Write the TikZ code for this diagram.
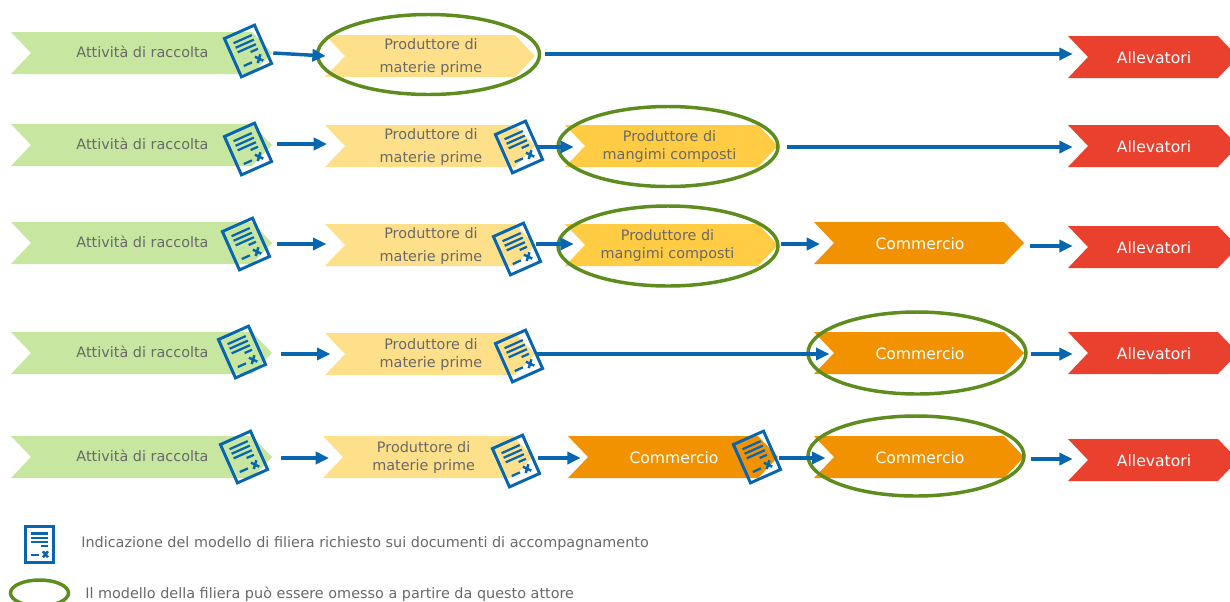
\documentclass[tikz,border=0pt]{standalone}
\usepackage{fontspec}
\setmainfont{DejaVu Sans}
\usetikzlibrary{arrows.meta}

\definecolor{raccolta}{RGB}{199,231,160}
\definecolor{materie}{RGB}{255,224,138}
\definecolor{mangimi}{RGB}{255,204,68}
\definecolor{commercio}{RGB}{243,146,0}
\definecolor{allevatori}{RGB}{233,65,46}
\definecolor{flowblue}{RGB}{8,102,176}
\definecolor{ringgreen}{RGB}{94,140,31}
\definecolor{labelgrey}{RGB}{105,105,105}

\tikzset{
  flow/.style={draw=flowblue,line width=2.6pt,-{Stealth[length=10pt,width=9pt,inset=0pt]}},
  ring/.style={draw=ringgreen,line width=2.6pt},
  dark label/.style={font=\fontsize{10.8}{12.5}\selectfont,text=labelgrey,align=center,inner sep=0pt},
  green label/.style={dark label,yshift=1.5pt},
  light label/.style={font=\fontsize{11.7}{13}\selectfont,text=white,align=center,inner sep=0pt},
  docicon/.pic={
    \draw[flowblue,line width=2.2pt] (-16.5,-21) rectangle (16.5,21);
    \draw[flowblue,line width=1.7pt] (-10,13) -- (10,13) (-10,8) -- (10,8) (-10,3) -- (10,3) (2,-2) -- (10,-2);
    \draw[flowblue,line width=1.7pt] (-10,-12) -- (-1,-12);
    \draw[flowblue,line width=1.9pt] (4,-8) -- (10,-15) (10,-8) -- (4,-15);
  }
}

% name, left, right, centre y, fill, label style, text
\newcommand{\chevron}[7]{
  \fill[#5] (#2,#4-21) -- ({#3-20},#4-21) -- (#3,#4) -- ({#3-20},#4+21) -- (#2,#4+21) -- ({#2+20},#4) -- cycle;
  \node[#6,minimum width={(#3-#2)*0.75pt},minimum height=31.5pt] (#1) at ({(#2+#3)/2+1},#4+1) {#7};
}

\begin{document}
\begin{tikzpicture}[x=0.75pt,y=0.75pt,yscale=-1,xscale=1]
\useasboundingbox (0,0) rectangle (1230,601);

% Row 1
\chevron{ra}{11}{272}{53}{raccolta}{green label}{Attività di raccolta}
\chevron{ma}{325}{535}{56}{materie}{dark label}{Produttore di\\[4.5pt]materie prime}
\chevron{aa}{1068}{1238}{57}{allevatori}{light label}{Allevatori}
\pic[rotate=24] at (248,51) {docicon};
\draw[ring] (428.5,54.5) ellipse (111 and 40);
\draw[flow] ([yshift=0.75pt]ra.east) -- ([yshift=-0.75pt]ma.west);
\draw[flow] ([xshift=6.75pt,yshift=-3pt]ma.east |- aa.west) -- ([xshift=3pt,yshift=-3pt]aa.west);

% Row 2
\chevron{rb}{11}{272}{145}{raccolta}{green label}{Attività di raccolta}
\chevron{mb}{325}{535}{146}{materie}{dark label}{Produttore di\\[4.5pt]materie prime}
\chevron{gb}{565}{778}{146}{mangimi}{dark label}{\hspace*{-4.5pt}Produttore di\\[1pt]\hspace*{-4.5pt}mangimi composti}
\chevron{ab}{1068}{1238}{146}{allevatori}{light label}{Allevatori}
\pic[rotate=24] at (248,149) {docicon};
\pic[rotate=24] at (519,147) {docicon};
\draw[ring] (668,146.5) ellipse (110 and 40);
\draw[flow] ([xshift=3pt]rb.east) -- ([xshift=1pt]mb.west |- rb.east);
\draw[flow] (mb.east) -- ([xshift=6pt]gb.west);
\draw[flow] ([xshift=6pt]gb.east) -- ([xshift=3pt]ab.west);

% Row 3
\chevron{rc}{11}{272}{243}{raccolta}{green label}{Attività di raccolta}
\chevron{mc}{325}{535}{245}{materie}{dark label}{Produttore di\\[4.5pt]materie prime}
\chevron{gc}{565}{778}{245}{mangimi}{dark label}{\hspace*{-7.5pt}Produttore di\\[1pt]\hspace*{-7.5pt}mangimi composti}
\chevron{oc}{814}{1024}{243}{commercio}{light label}{Commercio}
\chevron{ac}{1068}{1238}{247}{allevatori}{light label}{Allevatori}
\pic[rotate=24] at (246,244) {docicon};
\pic[rotate=24] at (517,249) {docicon};
\draw[ring] (668,246) ellipse (110 and 40);
\draw[flow] ([xshift=3pt]rc.east |- oc.west) -- ([xshift=0.5pt]mc.west |- oc.west);
\draw[flow] (mc.east |- oc.west) -- ([xshift=6pt]gc.west |- oc.west);
\draw[flow] ([xshift=1.5pt]gc.east |- oc.west) -- ([xshift=4pt]oc.west);
\draw[flow] ([xshift=3.5pt,yshift=-1.5pt]oc.east |- ac.west) -- ([xshift=3pt,yshift=-1.5pt]ac.west);

% Row 4
\chevron{rd}{11}{272}{353}{raccolta}{green label}{Attività di raccolta}
\chevron{md}{325}{535}{354}{materie}{dark label}{Produttore di\\[1pt]materie prime}
\chevron{od}{814}{1024}{353}{commercio}{light label}{Commercio}
\chevron{ad}{1068}{1238}{353}{allevatori}{light label}{Allevatori}
\pic[rotate=24] at (242,352) {docicon};
\pic[rotate=24] at (519,356) {docicon};
\draw[ring] (917,353) ellipse (109 and 41);
\draw[flow] ([xshift=6pt]rd.east |- od.west) -- ([xshift=3.5pt]md.west |- od.west);
\draw[flow] (md.east |- od.west) -- ([xshift=11pt]od.west);
\draw[flow] ([xshift=4.5pt]od.east) -- ([xshift=3pt]ad.west);

% Row 5
\chevron{re}{11}{272}{457}{raccolta}{green label}{Attività di raccolta}
\chevron{me}{323}{533}{457}{materie}{dark label}{\hspace*{-8pt}Produttore di\\[1pt]\hspace*{-8pt}materie prime}
\chevron{oe}{568}{778}{457}{commercio}{light label}{Commercio}
\chevron{of}{814}{1024}{457}{commercio}{light label}{Commercio}
\chevron{ae}{1068}{1238}{460}{allevatori}{light label}{Allevatori}
\pic[rotate=24] at (244,457) {docicon};
\pic[rotate=24] at (516,461) {docicon};
\pic[rotate=24] at (757,457) {docicon};
\draw[ring] (916,456) ellipse (108 and 40);
\draw[flow] ([xshift=5.5pt]re.east |- me.west) -- ([xshift=4pt]me.west);
\draw[flow] ([xshift=3pt]me.east) -- ([xshift=9pt]oe.west);
\draw[flow] (oe.east) -- ([xshift=8pt]of.west);
\draw[flow] ([xshift=4pt,yshift=-1.5pt]of.east |- ae.west) -- ([xshift=3pt,yshift=-1.5pt]ae.west);

% Legend
\pic[scale=0.85] at (39.5,544.5) {docicon};
\draw[ring] (39.5,593) ellipse (29 and 13);
\node[dark label,anchor=west] (legdoc) at (81,544) {Indicazione del modello di filiera richiesto sui documenti di accompagnamento};
\node[dark label,anchor=west] (legring) at (85,594) {Il modello della filiera può essere omesso a partire da questo attore};

\end{tikzpicture}
\end{document}
